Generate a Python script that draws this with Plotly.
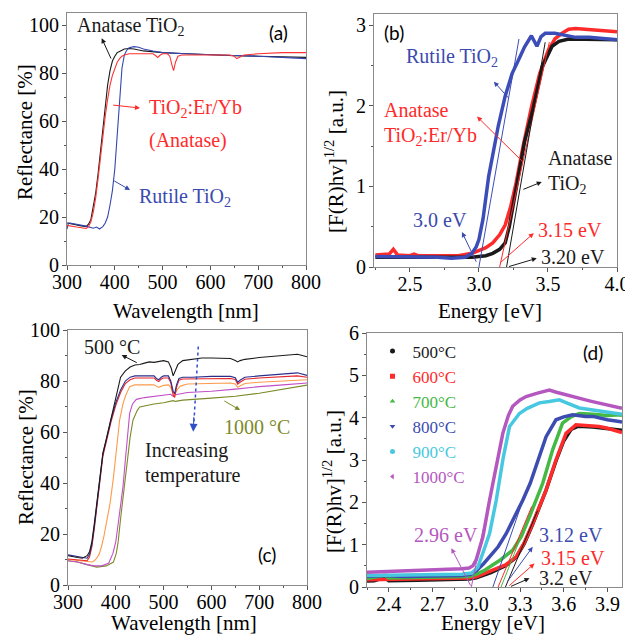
import plotly.graph_objects as go

# ---------------- Panel (a): reflectance ----------------
a_wl_anatase = [300, 310, 320, 330, 340, 345, 350, 355, 360, 365, 369, 375, 380, 385, 390, 395, 400, 405, 410, 420, 430, 440, 460, 480, 500, 550, 600, 650, 700, 750, 800]
a_R_anatase = [17.5, 17, 16.7, 16.3, 16, 17, 19, 24, 30, 38, 46, 57, 67, 75, 81, 85, 87, 88.5, 89, 90, 90.2, 90, 89.2, 88.8, 88.5, 88, 87.5, 87.2, 87, 86.7, 86.5]

a_wl_doped = [300, 310, 320, 330, 340, 345, 350, 355, 360, 365, 370, 375, 380, 385, 390, 395, 400, 405, 410, 415, 420, 430, 440, 460, 480, 485, 490, 495, 500, 510, 515, 520, 523, 527, 532, 540, 560, 600, 640, 650, 655, 660, 670, 700, 750, 800]
a_R_doped = [16.5, 16, 15.8, 15.5, 15.2, 16, 18, 22, 28, 36, 45, 54, 62, 69, 75, 79, 82, 84.5, 86, 87, 87.5, 88, 88, 88, 88, 87.3, 86.5, 87.5, 88, 88, 87, 83, 81, 84.5, 87, 87.5, 87.5, 87.5, 87.5, 87, 86, 86.5, 87.5, 88, 88.5, 88.5]

a_wl_rutile = [300, 303, 306, 320, 340, 355, 362, 368, 375, 380, 385, 390, 395, 400, 405, 410, 415, 420, 425, 430, 440, 450, 460, 480, 500, 550, 600, 650, 700, 750, 800]
a_R_rutile = [15, 17.5, 17.5, 17, 16.2, 15.3, 15.8, 15, 16, 17.5, 20, 25, 31, 40, 55, 71, 82, 87.5, 89.5, 90.5, 91, 90.7, 90, 89.2, 88.5, 88, 87.5, 87.3, 87, 86.5, 86]

# ---------------- Panel (b): Kubelka-Munk ----------------
b_E_rutile = [2.25, 2.3, 2.4, 2.5, 2.6, 2.7, 2.8, 2.9, 2.95, 2.98, 3.0, 3.03, 3.07, 3.1, 3.14, 3.19, 3.24, 3.29, 3.33, 3.38, 3.42, 3.45, 3.48, 3.55, 3.6, 3.65, 3.7, 3.8, 3.9, 4.0]
b_F_rutile = [0.13, 0.13, 0.12, 0.12, 0.12, 0.12, 0.11, 0.12, 0.17, 0.25, 0.34, 0.6, 1.12, 1.4, 1.75, 2.12, 2.4, 2.58, 2.73, 2.87, 2.74, 2.86, 2.9, 2.9, 2.88, 2.87, 2.85, 2.85, 2.83, 2.82]

b_E_anatase = [2.25, 2.5, 2.8, 2.95, 3.05, 3.1, 3.15, 3.19, 3.22, 3.25, 3.28, 3.33, 3.39, 3.46, 3.53, 3.58, 3.65, 3.75, 3.85, 4.0]
b_F_anatase = [0.12, 0.12, 0.11, 0.12, 0.14, 0.17, 0.22, 0.3, 0.5, 0.8, 1.1, 1.55, 1.95, 2.49, 2.74, 2.8, 2.83, 2.83, 2.83, 2.82]

b_E_doped = [2.25, 2.3, 2.35, 2.38, 2.41, 2.5, 2.53, 2.56, 2.7, 2.85, 2.95, 3.0, 3.05, 3.1, 3.15, 3.19, 3.23, 3.27, 3.32, 3.38, 3.44, 3.5, 3.55, 3.6, 3.65, 3.7, 3.8, 3.9, 4.0]
b_F_doped = [0.15, 0.15, 0.16, 0.22, 0.15, 0.14, 0.16, 0.14, 0.14, 0.14, 0.17, 0.2, 0.24, 0.3, 0.4, 0.52, 0.75, 1.05, 1.5, 1.98, 2.4, 2.68, 2.83, 2.9, 2.95, 2.96, 2.95, 2.94, 2.92]

b_tan_rutile_E = [3.0, 3.29]
b_tan_rutile_F = [0.0, 2.83]
b_tan_doped_E = [3.15, 3.51]
b_tan_doped_F = [0.0, 2.79]
b_tan_anatase_E = [3.20, 3.48]
b_tan_anatase_F = [0.0, 2.79]

# ---------------- Panel (c): reflectance vs temperature ----------------
c_wl_500 = [300, 310, 320, 330, 340, 345, 350, 355, 360, 365, 373, 380, 390, 400, 405, 410, 420, 430, 440, 450, 460, 470, 480, 490, 500, 510, 516, 520, 524, 530, 540, 560, 580, 600, 620, 640, 650, 655, 660, 670, 700, 720, 740, 760, 780, 790, 800]
c_R_500 = [11.5, 11, 10.8, 10.5, 11.5, 13, 17, 24, 32, 40, 51.6, 57, 65, 73, 78, 81.5, 84, 85.5, 86.3, 86.5, 87, 87.5, 87.3, 87.8, 88, 87.5, 85, 82, 84, 86.5, 88, 88.5, 89, 89, 89, 88.8, 88, 87.5, 88, 88.5, 89.2, 89.5, 90, 90.3, 90.5, 90, 89.5]

c_wl_600 = [300, 310, 320, 330, 340, 345, 350, 355, 360, 365, 373, 380, 390, 400, 410, 420, 430, 440, 460, 480, 485, 490, 495, 500, 510, 515, 520, 523, 527, 532, 540, 560, 600, 640, 650, 655, 660, 670, 700, 740, 770, 780, 800]
c_R_600 = [11.8, 11.5, 11.2, 10.8, 10.5, 12, 16, 23, 31, 39, 51.6, 57, 65, 71.5, 76.5, 80, 81.5, 82, 82, 82, 81, 80.5, 81.5, 82, 82, 80, 76, 75, 78.5, 81, 81.5, 81.5, 81.8, 81.8, 81.3, 79.5, 80.3, 81.5, 82, 82.5, 83, 83.2, 82.2]

c_wl_700 = [300, 310, 320, 330, 340, 345, 350, 355, 360, 365, 373, 380, 390, 400, 410, 420, 430, 440, 460, 480, 485, 490, 495, 500, 510, 515, 520, 523, 527, 532, 540, 560, 600, 640, 650, 655, 660, 670, 700, 740, 770, 780, 800]
c_R_700 = [10.2, 10, 9.8, 9.5, 9.5, 11, 15, 22, 30, 38, 50.5, 56, 64, 70.5, 75.5, 79, 80.5, 81.2, 81.2, 81.2, 80.3, 79.8, 80.8, 81.2, 81.2, 79.3, 74.5, 73.5, 77.5, 80.3, 80.8, 80.8, 81, 81, 80.6, 78.8, 79.5, 80.7, 81.2, 81.5, 81.8, 82, 81.5]

c_wl_800 = [300, 320, 340, 350, 355, 360, 365, 370, 375, 380, 388, 395, 400, 408, 415, 420, 429, 440, 460, 480, 490, 500, 510, 515, 520, 523, 528, 535, 550, 600, 640, 650, 655, 660, 670, 700, 750, 800]
c_R_800 = [10, 9.5, 9, 9, 9.5, 10.5, 12, 15, 19, 24, 32, 42, 50, 64.7, 71, 74, 77.8, 78.5, 78.5, 78.5, 77.5, 78.3, 78.5, 77.5, 75, 74.5, 76.5, 78, 78.8, 79, 79.2, 78.8, 77.5, 78, 79, 79.5, 80, 80.5]

c_wl_900 = [300, 320, 340, 355, 370, 385, 394, 400, 405, 410, 415, 420, 425, 429, 435, 443, 460, 500, 515, 520, 525, 550, 600, 650, 700, 750, 800]
c_R_900 = [9.5, 9, 8, 7.5, 7.5, 8.5, 12.4, 17, 24, 31, 38.5, 49, 59, 67.3, 71, 72.8, 73.5, 74.5, 74.8, 74, 74.6, 75.5, 76, 76.8, 77.8, 78.5, 79.2]

c_wl_1000 = [300, 320, 340, 360, 380, 395, 401, 405, 410, 415, 419, 425, 430, 436, 445, 450, 480, 500, 520, 525, 540, 600, 650, 700, 750, 800]
c_R_1000 = [9.5, 9, 8, 7, 7.5, 9, 12.4, 17, 26, 34, 38.5, 50, 58, 64.7, 68.5, 69.8, 71, 71.5, 72.3, 72, 72.5, 73.3, 74, 75.2, 76.8, 78.4]

c_arrow_wl = [572.6, 563.5]
c_arrow_R = [93.5, 64.0]

# ---------------- Panel (d): Kubelka-Munk vs temperature ----------------
d_labels = ["500°C", "600°C", "700°C", "800°C", "900°C", "1000°C"]

d_E_500 = [2.25, 2.3, 2.37, 2.4, 2.6, 2.8, 2.95, 3.0, 3.05, 3.1, 3.15, 3.2, 3.274, 3.33, 3.387, 3.43, 3.479, 3.547, 3.6, 3.65, 3.7, 3.8, 3.9, 3.98, 4.0]
d_F_500 = [0.14, 0.15, 0.22, 0.15, 0.16, 0.17, 0.19, 0.22, 0.27, 0.34, 0.42, 0.5, 0.7, 1.03, 1.48, 1.86, 2.29, 2.98, 3.45, 3.72, 3.8, 3.78, 3.74, 3.72, 3.7]

d_E_600 = [2.25, 2.4, 2.6, 2.8, 2.95, 3.0, 3.05, 3.1, 3.15, 3.2, 3.274, 3.33, 3.387, 3.43, 3.479, 3.547, 3.616, 3.684, 3.75, 3.843, 3.9, 3.98, 4.0]
d_F_600 = [0.17, 0.18, 0.18, 0.19, 0.21, 0.24, 0.3, 0.38, 0.45, 0.52, 0.71, 1.05, 1.5, 1.88, 2.29, 3.0, 3.63, 3.83, 3.82, 3.79, 3.75, 3.67, 3.65]

d_E_700 = [2.25, 2.37, 2.4, 2.6, 2.8, 2.95, 3.0, 3.05, 3.091, 3.17, 3.25, 3.31, 3.365, 3.41, 3.456, 3.524, 3.592, 3.65, 3.707, 3.8, 3.9, 3.98, 4.0]
d_F_700 = [0.2, 0.27, 0.21, 0.22, 0.23, 0.25, 0.3, 0.38, 0.47, 0.65, 0.87, 1.2, 1.66, 2.05, 2.45, 3.24, 3.87, 4.02, 4.1, 4.08, 4.05, 4.07, 4.05]

d_E_800 = [2.25, 2.37, 2.5, 2.7, 2.9, 2.96, 3.0, 3.05, 3.091, 3.15, 3.205, 3.26, 3.319, 3.37, 3.41, 3.479, 3.547, 3.6, 3.661, 3.75, 3.8, 3.9, 3.98, 4.0]
d_F_800 = [0.25, 0.27, 0.25, 0.26, 0.27, 0.3, 0.38, 0.55, 0.71, 0.95, 1.26, 1.62, 2.05, 2.45, 2.84, 3.55, 3.95, 4.02, 4.07, 4.03, 4.03, 3.95, 3.91, 3.9]

d_E_900 = [2.25, 2.5, 2.7, 2.9, 2.97, 3.011, 3.05, 3.091, 3.137, 3.182, 3.228, 3.296, 3.35, 3.433, 3.5, 3.57, 3.62, 3.707, 3.8, 3.9, 3.98, 4.0]
d_F_900 = [0.27, 0.28, 0.29, 0.3, 0.33, 0.47, 0.85, 1.26, 2.05, 3.0, 3.79, 4.1, 4.22, 4.35, 4.38, 4.42, 4.35, 4.23, 4.18, 4.13, 4.1, 4.08]

d_E_1000 = [2.25, 2.35, 2.5, 2.6, 2.7, 2.8, 2.9, 2.95, 2.977, 3.0, 3.045, 3.091, 3.137, 3.182, 3.22, 3.25, 3.3, 3.342, 3.42, 3.501, 3.55, 3.6, 3.661, 3.75, 3.798, 3.9, 3.98, 4.0]
d_F_1000 = [0.35, 0.36, 0.38, 0.39, 0.4, 0.42, 0.43, 0.45, 0.5, 0.65, 1.18, 2.05, 2.84, 3.63, 4.05, 4.27, 4.42, 4.5, 4.58, 4.65, 4.6, 4.55, 4.5, 4.42, 4.38, 4.3, 4.25, 4.22]

d_tan_1000_E = [2.966, 3.05]
d_tan_1000_F = [0.0, 1.4]
d_tan_800_E = [3.114, 3.33]
d_tan_800_F = [0.0, 2.15]
d_tan_700_E = [3.17, 3.40]
d_tan_700_F = [0.0, 2.0]
d_tan_600_E = [3.15, 3.38]
d_tan_600_F = [0.0, 1.9]
d_tan_500_E = [3.20, 3.42]
d_tan_500_F = [0.0, 1.8]

# ---------------- styling ----------------
SERIF = "Liberation Serif, Times New Roman, Times, serif"
SANS = "Lato, Open Sans, sans-serif"
BLACK = "#1a1a1a"
RED = "#ff2a2a"
BLUE = "#3a4aae"
C_NAVY = "#2b2f8c"
C_RED = "#e8252a"
C_ORANGE = "#ff9a4a"
C_MAG = "#c24fc6"
C_OLIVE = "#7d8a28"
D_GREEN = "#44b944"
D_BLUE = "#3c4cb0"
D_CYAN = "#48c8e0"
D_PURPLE = "#b458c0"

fig = go.Figure()


def line(x, y, color, width, xa, ya, dash=None):
    fig.add_trace(go.Scatter(x=x, y=y, mode="lines", xaxis=xa, yaxis=ya, showlegend=False,
                             line=dict(color=color, width=width, dash=dash), hoverinfo="skip"))


# (a)
line(a_wl_anatase, a_R_anatase, BLACK, 1.1, "x", "y")
line(a_wl_rutile, a_R_rutile, "#3446b0", 1.1, "x", "y")
line(a_wl_doped, a_R_doped, "#ff3333", 1.1, "x", "y")

# (b)
line(b_E_doped, b_F_doped, RED, 3.5, "x2", "y2")
line(b_E_anatase, b_F_anatase, BLACK, 3.5, "x2", "y2")
line(b_E_rutile, b_F_rutile, "#3c4db8", 3.5, "x2", "y2")
line(b_tan_rutile_E, b_tan_rutile_F, "#3c4db8", 1, "x2", "y2")
line(b_tan_doped_E, b_tan_doped_F, RED, 1, "x2", "y2")
line(b_tan_anatase_E, b_tan_anatase_F, BLACK, 1, "x2", "y2")

# (c)
line(c_wl_1000, c_R_1000, C_OLIVE, 1.1, "x3", "y3")
line(c_wl_900, c_R_900, C_MAG, 1.1, "x3", "y3")
line(c_wl_800, c_R_800, C_ORANGE, 1.1, "x3", "y3")
line(c_wl_700, c_R_700, C_RED, 1.1, "x3", "y3")
line(c_wl_600, c_R_600, C_NAVY, 1.1, "x3", "y3")
line(c_wl_500, c_R_500, BLACK, 1.1, "x3", "y3")
line(c_arrow_wl, c_arrow_R, "#3050c8", 1.5, "x3", "y3", dash="dot")

# (d)
d_series = [(d_E_500, d_F_500, BLACK, "circle"), (d_E_600, d_F_600, RED, "square"),
            (d_E_700, d_F_700, D_GREEN, "triangle-up"), (d_E_800, d_F_800, D_BLUE, "triangle-down"),
            (d_E_900, d_F_900, D_CYAN, "circle"), (d_E_1000, d_F_1000, D_PURPLE, "triangle-left")]
for ex, fy, col, sym in d_series:
    line(ex, fy, col, 3.5, "x4", "y4")
line(d_tan_1000_E, d_tan_1000_F, D_PURPLE, 1, "x4", "y4")
line(d_tan_800_E, d_tan_800_F, D_BLUE, 1, "x4", "y4")
line(d_tan_700_E, d_tan_700_F, D_GREEN, 1, "x4", "y4")
line(d_tan_600_E, d_tan_600_F, RED, 1, "x4", "y4")
line(d_tan_500_E, d_tan_500_F, BLACK, 1, "x4", "y4")
for (ex, fy, col, sym), lab in zip(d_series, d_labels):
    fig.add_trace(go.Scatter(x=[None], y=[None], mode="markers", xaxis="x4", yaxis="y4",
                             name=f"<span style='color:{col}'>{lab}</span>",
                             marker=dict(color=col, symbol=sym, size=5)))

# ---------------- axes ----------------
W, H = 633, 635
OFF = 8  # page body margin: screen px = figure px + OFF


def dom_x(l, r):
    return [(l - OFF) / W, (r - OFF) / W]


def dom_y(top, bottom):
    return [1 - (bottom - OFF) / H, 1 - (top - OFF) / H]


def px(xs):
    return (xs - OFF) / W


def py(ys):
    return 1 - (ys - OFF) / H


def axis(domain, rng, dtick, tick0, anchor, minor_dtick, fmt=None, standoff=-3):
    d = dict(domain=domain, range=rng, dtick=dtick, tick0=tick0, anchor=anchor, automargin=False,
             showline=True, linecolor="#8a8a8a", linewidth=1, mirror=True,
             ticks="outside", ticklen=4, tickwidth=1, tickcolor="#555555",
             ticklabelstandoff=standoff,
             tickfont=dict(family=SERIF, size=20, color="black"),
             showgrid=False, zeroline=False,
             minor=dict(ticks="outside", ticklen=2, tickcolor="#555555", dtick=minor_dtick, tick0=tick0, showgrid=False))
    if fmt:
        d["tickformat"] = fmt
    return d


fig.update_layout(
    xaxis=axis(dom_x(67, 306), [300, 800], 100, 300, "y", 50, standoff=-5),
    yaxis=axis(dom_y(13, 265), [0, 105], 20, 0, "x", 10, standoff=-1),
    xaxis2=axis(dom_x(374, 617), [2.24, 4.0], 0.5, 2.5, "y2", 0.25, ".1f", standoff=-5),
    yaxis2=axis(dom_y(14, 267), [0, 3.14], 1, 0, "x2", 0.5, standoff=-1),
    xaxis3=axis(dom_x(68, 307), [300, 800], 100, 300, "y3", 50, standoff=-5),
    yaxis3=axis(dom_y(330, 585), [0, 100], 20, 0, "x3", 10, standoff=-1),
    xaxis4=axis(dom_x(367, 622), [2.25, 4.0], 0.3, 2.4, "y4", 0.15, ".1f", standoff=-5),
    yaxis4=axis(dom_y(333, 587), [0, 6], 1, 0, "x4", 0.5, standoff=-1),
)

# ---------------- annotations ----------------
ann = []


def txt(xr, yr, x, y, text, color, anchor="left", font=SERIF, size=20, angle=0):
    ann.append(dict(xref=xr, yref=yr, x=x, y=y, text=text, showarrow=False, xanchor=anchor,
                    yanchor="middle", textangle=angle, font=dict(family=font, size=size, color=color)))


def arr(xr, yr, hx, hy, tx, ty, color, size=1.0):
    ann.append(dict(xref=xr, yref=yr, x=hx, y=hy, ax=tx, ay=ty, axref=xr, ayref=yr, text="",
                    showarrow=True, arrowhead=2, arrowsize=size, arrowwidth=1, arrowcolor=color))


# axis titles
KM = "[F(R)hv]<sup>1/2</sup> [a.u.]"
TS = 21
txt("paper", "paper", px(186), py(311), "Wavelength [nm]", "black", anchor="center", size=TS)
txt("paper", "paper", px(25), py(132), "Reflectance [%]", "black", anchor="center", size=TS, angle=-90)
txt("paper", "paper", px(490), py(311), "Energy [eV]", "black", anchor="center", size=TS)
txt("paper", "paper", px(335), py(162), KM, "black", anchor="center", size=TS, angle=-90)
txt("paper", "paper", px(184), py(623), "Wavelength [nm]", "black", anchor="center", size=TS)
txt("paper", "paper", px(26), py(457), "Reflectance [%]", "black", anchor="center", size=TS, angle=-90)
txt("paper", "paper", px(493), py(623), "Energy [eV]", "black", anchor="center", size=TS)
txt("paper", "paper", px(332), py(482), KM, "black", anchor="center", size=TS, angle=-90)

# (a)
txt("x", "y", 316.7, 99.2, "Anatase TiO<sub>2</sub>", BLACK)
arr("x", "y", 372.6, 94.5, 393.5, 85.4, BLACK)
txt("x", "y", 467.4, 65.4, "TiO<sub>2</sub>:Er/Yb", RED)
txt("x", "y", 467.4, 52.0, "(Anatase)", RED)
arr("x", "y", 452.7, 65.4, 393.5, 66.7, RED)
txt("x", "y", 446.4, 28.3, "Rutile TiO<sub>2</sub>", BLUE)
arr("x", "y", 431.8, 31.25, 395.6, 35.4, BLUE)
txt("x", "y", 743.5, 96.7, "(a)", "black", anchor="center", font=SANS, size=19)

# (b)
txt("x2", "y2", 2.458, 2.60, "Rutile TiO<sub>2</sub>", BLUE)
arr("x2", "y2", 3.108, 2.30, 3.224, 2.08, BLUE)
txt("x2", "y2", 2.30, 1.954, "Anatase", RED)
txt("x2", "y2", 2.30, 1.617, "TiO<sub>2</sub>:Er/Yb", RED)
arr("x2", "y2", 2.986, 1.867, 3.325, 1.293, RED)
txt("x2", "y2", 3.484, 1.355, "Anatase", BLACK)
txt("x2", "y2", 3.484, 1.019, "TiO<sub>2</sub>", BLACK)
arr("x2", "y2", 3.455, 1.056, 3.311, 0.956, BLACK)
txt("x2", "y2", 2.509, 0.582, "3.0 eV", BLUE)
arr("x2", "y2", 2.877, 0.433, 2.986, 0.046, BLUE)
txt("x2", "y2", 3.412, 0.458, "3.15 eV", RED)
arr("x2", "y2", 3.397, 0.42, 3.15, 0.046, RED)
txt("x2", "y2", 3.434, 0.121, "3.20 eV", BLACK)
arr("x2", "y2", 3.419, 0.108, 3.207, 0.0, BLACK)
txt("x2", "y2", 2.30, 2.914, "(b)", "black", font=SANS, size=19)

# (c)
txt("x3", "y3", 329, 93.3, "500 °C", BLACK)
arr("x3", "y3", 412.3, 90.2, 447, 86.9, BLACK)
txt("x3", "y3", 622, 62, "1000 °C", C_OLIVE)
arr("x3", "y3", 660, 68.6, 624, 72.5, C_OLIVE)
txt("x3", "y3", 457, 52.9, "Increasing", BLACK)
txt("x3", "y3", 457, 43.1, "temperature", BLACK)
arr("x3", "y3", 562, 60.1, 563.5, 66.5, "#3050c8", size=1.6)
txt("x3", "y3", 716, 11.8, "(c)", "black", anchor="center", font=SANS, size=19)

# (d)
txt("x4", "y4", 2.557, 1.225, "2.96 eV", D_PURPLE)
arr("x4", "y4", 2.829, 0.917, 2.966, 0.0, D_PURPLE)
txt("x4", "y4", 3.419, 1.225, "3.12 eV", D_BLUE)
arr("x4", "y4", 3.387, 0.948, 3.205, 0.088, D_BLUE)
txt("x4", "y4", 3.433, 0.68, "3.15 eV", RED)
arr("x4", "y4", 3.399, 0.555, 3.216, 0.0, RED)
txt("x4", "y4", 3.419, 0.206, "3.2 eV", BLACK)
arr("x4", "y4", 3.365, 0.206, 3.228, 0.0, BLACK)
txt("x4", "y4", 3.803, 5.54, "(d)", "black", anchor="center", font=SANS, size=19)

fig.update_layout(
    annotations=ann,
    width=W, height=H,
    margin=dict(l=0, r=0, t=0, b=0, autoexpand=False),
    paper_bgcolor="white", plot_bgcolor="white",
    showlegend=True,
    legend=dict(x=px(372.5), y=py(333.5), xanchor="left", yanchor="top",
                font=dict(family=SERIF, size=17, color="black"),
                bgcolor="rgba(0,0,0,0)", borderwidth=0, tracegroupgap=0),
)

fig.write_html("out.html")
